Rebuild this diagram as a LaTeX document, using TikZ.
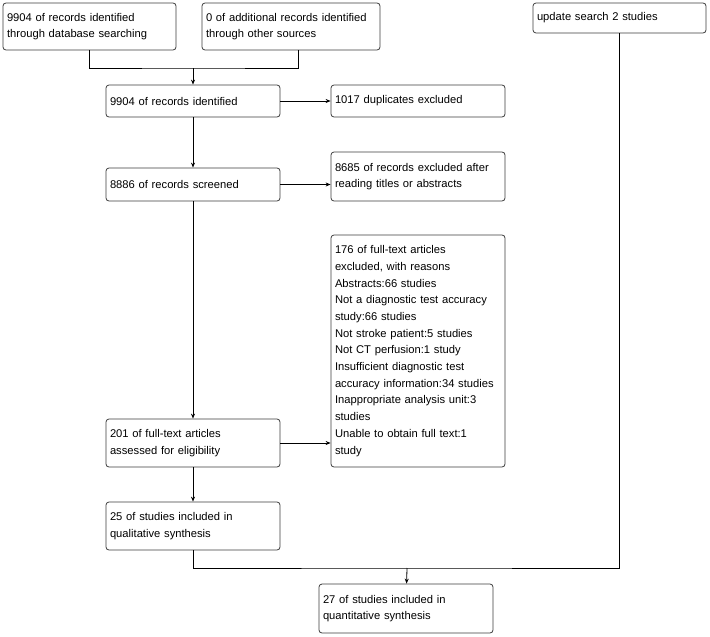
\documentclass[tikz,border=0pt]{standalone}
\usepackage{fontspec}
\setmainfont{Liberation Sans}
\usetikzlibrary{arrows.meta,positioning}
\definecolor{edge}{RGB}{60,60,60}

\begin{document}
\begin{tikzpicture}[
  x=1pt, y=-1pt,
  box/.style={rectangle, draw=edge, rounded corners=3pt, line width=0.8pt,
              align=left, inner xsep=4pt, inner ysep=0pt,
              font=\fontsize{11.2}{16.7}\selectfont},
  arr/.style={-{Stealth[length=5pt, width=4pt]}, line width=0.8pt},
  link/.style={line width=0.8pt}
]
\useasboundingbox (0,0) rectangle (710,637);
% ── Identification ─────────────────────
\node[box, text width=165pt, minimum height=47pt] (db) at (89.5,26.5)
  {9904 of records identified\\through database searching};
\node[box, text width=170pt, minimum height=47pt] (other) at (291,26.5)
  {0 of additional records identified\\through other sources};
\node[box, text width=165pt, minimum height=30pt] (upd) at (619.5,18)
  {update search 2 studies};
\coordinate (join) at (193,68);
\node[box, text width=166pt, minimum height=32pt] (ident) at (193,101)
  {9904 of records identified};
\node[box, text width=166pt, minimum height=32pt] (dup) at (418,101)
  {1017 duplicates excluded};
% ── Screening ──────────────────────────
\node[box, text width=166pt, minimum height=33pt] (screen) at (193,184.5)
  {8886 of records screened};
\node[box, text width=166pt, minimum height=49pt] (excl) at (418,176.5)
  {8685 of records excluded after\\reading titles or abstracts};
% ── Eligibility ────────────────────────
\node[box, text width=166pt, minimum height=48pt] (full) at (193,443)
  {201 of full-text articles\\assessed for eligibility};
\node[box, text width=166pt, minimum height=232pt] (reasons) at (418,351)
  {176 of full-text articles\\excluded, with reasons\\Abstracts:66 studies\\
   Not a diagnostic test accuracy\\study:66 studies\\
   Not stroke patient:5 studies\\Not CT perfusion:1 study\\
   Insufficient diagnostic test\\accuracy information:34 studies\\
   Inappropriate analysis unit:3\\studies\\
   Unable to obtain full text:1\\study};
% ── Included ───────────────────────────
\node[box, text width=166pt, minimum height=48pt] (qual) at (193,526)
  {25 of studies included in\\qualitative synthesis};
\coordinate (meet) at (407,568);
\node[box, text width=166pt, minimum height=49pt] (quant) at (406,608.5)
  {27 of studies included in\\quantitative synthesis};
% ── Arrows ─────────────────────────────
\draw[link] (db.south) |- (join) -| ([xshift=7pt]other.south);
\draw[arr] (join) -- (ident);
\draw[arr] (ident) -- (dup);
\draw[arr] (ident) -- (screen);
\draw[arr] (screen.east) -- (screen.east -| excl.west);
\draw[arr] (screen) -- (full);
\draw[arr] (full.east) -- (full.east -| reasons.west);
\draw[arr] (full) -- (qual);
\draw[link] (qual.south) |- (meet) -| (upd.south);
\draw[arr] (meet) -- (quant);
\end{tikzpicture}
\end{document}
